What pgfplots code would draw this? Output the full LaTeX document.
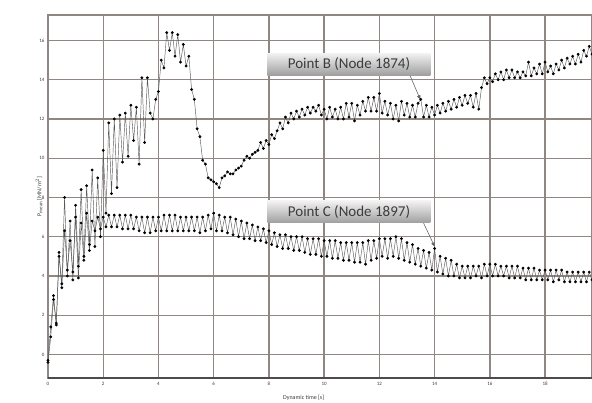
\documentclass[border=0pt]{standalone}
\usepackage{pgfplots}
\pgfplotsset{compat=1.18}
\usepackage{fontspec}
\setmainfont{Carlito}
\usetikzlibrary{arrows.meta,calc}
\definecolor{gridc}{RGB}{145,135,130}
\definecolor{txtc}{RGB}{60,60,60}
\pgfplotstableread{
t p
0.0 -0.4
0.1 0.9
0.2 2.8
0.3 1.6
0.4 5.0
0.5 3.6
0.6 8.0
0.7 4.0
0.8 6.8
0.9 3.8
1.0 7.6
1.1 4.5
1.2 8.4
1.3 5.0
1.4 8.6
1.5 5.6
1.6 9.4
1.7 5.5
1.8 9.0
1.9 6.0
2.0 10.4
2.1 7.2
2.2 11.8
2.3 8.2
2.4 12.0
2.5 8.5
2.6 12.2
2.7 9.8
2.8 12.3
2.9 10.1
3.0 12.7
3.1 10.9
3.2 12.6
3.3 9.7
3.4 14.1
3.5 10.8
3.6 14.1
3.7 12.3
3.8 12.0
3.9 13.0
4.0 13.4
4.1 15.0
4.2 14.6
4.3 16.4
4.4 15.5
4.5 16.4
4.6 15.2
4.7 16.3
4.8 14.9
4.9 15.8
5.0 14.7
5.1 15.2
5.2 13.5
5.3 13.0
5.4 11.5
5.5 11.1
5.6 9.9
5.7 9.7
5.8 9.0
5.9 8.9
6.0 8.8
6.1 8.7
6.2 8.5
6.3 9.0
6.4 9.1
6.5 9.3
6.6 9.2
6.7 9.2
6.8 9.4
6.9 9.5
7.0 9.6
7.1 9.9
7.2 10.1
7.3 10.0
7.4 10.2
7.5 10.3
7.6 10.4
7.7 10.8
7.8 10.5
7.9 10.9
8.0 10.7
8.1 11.2
8.2 11.0
8.3 11.4
8.4 11.8
8.5 11.5
8.6 12.1
8.7 11.8
8.8 12.3
8.9 12.0
9.0 12.4
9.1 12.1
9.2 12.5
9.3 12.2
9.4 12.6
9.5 12.3
9.6 12.6
9.7 12.4
9.8 12.7
9.9 12.2
10.0 12.5
10.1 12.0
10.2 12.6
10.3 12.1
10.4 12.5
10.5 12.0
10.6 12.6
10.7 12.0
10.8 12.8
10.9 12.1
11.0 12.8
11.1 11.9
11.2 12.7
11.3 12.2
11.4 12.9
11.5 12.4
11.6 13.1
11.7 12.4
11.8 13.1
11.9 12.4
12.0 13.3
12.1 12.3
12.2 12.9
12.3 12.2
12.4 12.8
12.5 12.0
12.6 12.7
12.7 11.9
12.8 12.9
12.9 12.2
13.0 12.8
13.1 12.1
13.2 12.7
13.3 12.1
13.4 12.8
13.5 13.0
13.6 12.1
13.7 12.7
13.8 12.1
13.9 12.6
14.0 12.2
14.1 12.7
14.2 12.3
14.3 12.8
14.4 12.4
14.5 12.9
14.6 12.5
14.7 13.0
14.8 12.6
14.9 13.1
15.0 12.7
15.1 13.2
15.2 12.8
15.3 13.2
15.4 12.6
15.5 13.3
15.6 12.5
15.7 13.6
15.8 14.1
15.9 13.8
16.0 14.1
16.1 13.9
16.2 14.3
16.3 14.0
16.4 14.4
16.5 14.0
16.6 14.5
16.7 14.1
16.8 14.5
16.9 14.1
17.0 14.4
17.1 14.1
17.2 14.4
17.3 14.2
17.4 14.9
17.5 14.2
17.6 14.6
17.7 14.3
17.8 14.8
17.9 14.3
18.0 14.9
18.1 14.4
18.2 14.7
18.3 14.3
18.4 14.8
18.5 14.5
18.6 15.0
18.7 14.6
18.8 15.1
18.9 14.8
19.0 15.2
19.1 14.8
19.2 15.3
19.3 14.9
19.4 15.5
19.5 15.2
19.6 15.7
19.7 15.3
}\pointB
\pgfplotstableread{
t p
0.0 -0.3
0.1 1.4
0.2 3.0
0.3 1.5
0.4 5.2
0.5 3.4
0.6 6.3
0.7 4.3
0.8 5.8
0.9 4.2
1.0 7.0
1.1 3.9
1.2 6.7
1.3 4.8
1.4 7.2
1.5 5.3
1.6 6.8
1.7 6.3
1.8 7.0
1.9 6.4
2.0 7.0
2.1 6.5
2.2 7.1
2.3 6.5
2.4 7.1
2.5 6.5
2.6 7.1
2.7 6.4
2.8 7.1
2.9 6.4
3.0 7.1
3.1 6.4
3.2 7.0
3.3 6.3
3.4 7.0
3.5 6.2
3.6 7.0
3.7 6.2
3.8 7.0
3.9 6.3
4.0 7.0
4.1 6.3
4.2 7.1
4.3 6.3
4.4 7.1
4.5 6.3
4.6 7.1
4.7 6.3
4.8 7.0
4.9 6.3
5.0 7.0
5.1 6.3
5.2 7.0
5.3 6.3
5.4 7.0
5.5 6.2
5.6 7.0
5.7 6.3
5.8 7.1
5.9 6.4
6.0 7.2
6.1 6.3
6.2 7.1
6.3 6.3
6.4 7.0
6.5 6.2
6.6 7.0
6.7 6.1
6.8 6.9
6.9 6.0
7.0 6.8
7.1 5.9
7.2 6.7
7.3 5.9
7.4 6.6
7.5 5.8
7.6 6.5
7.7 5.8
7.8 6.4
7.9 5.7
8.0 6.3
8.1 5.6
8.2 6.2
8.3 5.5
8.4 6.1
8.5 5.4
8.6 6.1
8.7 5.4
8.8 6.0
8.9 5.3
9.0 6.0
9.1 5.3
9.2 6.0
9.3 5.2
9.4 5.9
9.5 5.1
9.6 5.9
9.7 5.1
9.8 5.9
9.9 5.0
10.0 5.8
10.1 5.0
10.2 5.8
10.3 4.9
10.4 5.8
10.5 4.9
10.6 5.7
10.7 4.8
10.8 5.7
10.9 4.8
11.0 5.7
11.1 4.7
11.2 5.7
11.3 4.7
11.4 5.7
11.5 4.6
11.6 5.8
11.7 4.8
11.8 5.8
11.9 4.9
12.0 5.9
12.1 5.0
12.2 5.9
12.3 4.9
12.4 5.9
12.5 5.0
12.6 6.0
12.7 4.9
12.8 5.9
12.9 4.8
13.0 5.7
13.1 4.7
13.2 5.6
13.3 4.6
13.4 5.4
13.5 4.5
13.6 5.3
13.7 4.4
13.8 5.2
13.9 4.3
14.0 5.4
14.1 4.2
14.2 5.0
14.3 4.1
14.4 4.9
14.5 4.0
14.6 4.8
14.7 4.0
14.8 4.6
14.9 3.9
15.0 4.5
15.1 3.9
15.2 4.5
15.3 3.9
15.4 4.5
15.5 4.0
15.6 4.5
15.7 3.9
15.8 4.6
15.9 4.0
16.0 4.6
16.1 4.0
16.2 4.6
16.3 4.0
16.4 4.5
16.5 4.0
16.6 4.5
16.7 3.9
16.8 4.5
16.9 3.9
17.0 4.5
17.1 3.9
17.2 4.4
17.3 3.8
17.4 4.4
17.5 3.8
17.6 4.4
17.7 3.8
17.8 4.3
17.9 3.8
18.0 4.3
18.1 3.8
18.2 4.3
18.3 3.7
18.4 4.3
18.5 3.8
18.6 4.3
18.7 3.7
18.8 4.2
18.9 3.7
19.0 4.2
19.1 3.7
19.2 4.2
19.3 3.7
19.4 4.2
19.5 3.7
19.6 4.2
19.7 3.8
}\pointC
\begin{document}
\begin{tikzpicture}
\begin{axis}[
  scale only axis,
  width=544pt, height=363pt,
  xmin=0, xmax=19.7, ymin=-1.2, ymax=17.3,
  xtick={0,2,...,18}, ytick={0,2,...,16},
  grid=major,
  grid style={draw=gridc, line width=1.4pt},
  axis line style={draw=gridc, line width=1.4pt},
  tick style={draw=none},
  /pgf/number format/assume math mode=true,
  ticklabel style={font=\fontsize{5}{6}\selectfont, text=txtc},
  xticklabel style={yshift=-1pt},
  xlabel={Dynamic time [s]},
  ylabel={P$_{\mathrm{mean}}$ [MN/m$^2$]},
  label style={font=\fontsize{6}{7}\selectfont, text=txtc},
  xlabel style={at={(rel axis cs:0.47,0)}, anchor=north, yshift=-14pt},
  ylabel style={yshift=-10pt},
  clip=false,
]
\draw[black!70, line width=1.4pt] (rel axis cs:0,0) -- (rel axis cs:1,0);
\addplot[draw=black!65, line width=0.45pt, mark=*, mark size=1.2pt, mark options={fill=black, draw=black}] table[x=t,y=p] {\pointB};
\addplot[draw=black!65, line width=0.45pt, mark=*, mark size=1.2pt, mark options={fill=black, draw=black}] table[x=t,y=p] {\pointC};
\draw[black!60, line width=0.6pt, -{Triangle[length=4pt,width=3.5pt]}] (axis cs:13.1,14.25) -- (axis cs:13.48,13.0);
\draw[black!60, line width=0.6pt, -{Triangle[length=4pt,width=3.5pt]}] (axis cs:13.6,6.7) -- (axis cs:14.0,5.5);
\node[top color=gray!10, bottom color=gray!75, minimum width=163pt, minimum height=22pt, inner sep=0pt, text=txtc, font=\fontsize{15}{16}\selectfont] at (axis cs:10.9,14.8) {Point B (Node 1874)};
\node[top color=gray!10, bottom color=gray!75, minimum width=163pt, minimum height=22pt, inner sep=0pt, text=txtc, font=\fontsize{15}{16}\selectfont] at (axis cs:10.9,7.27) {Point C (Node 1897)};
\end{axis}
\pgfresetboundingbox
\path[use as bounding box] ($(current axis.south west)+(-48pt,-25pt)$) rectangle ($(current axis.north east)+(0pt,15pt)$);
\end{tikzpicture}
\end{document}
